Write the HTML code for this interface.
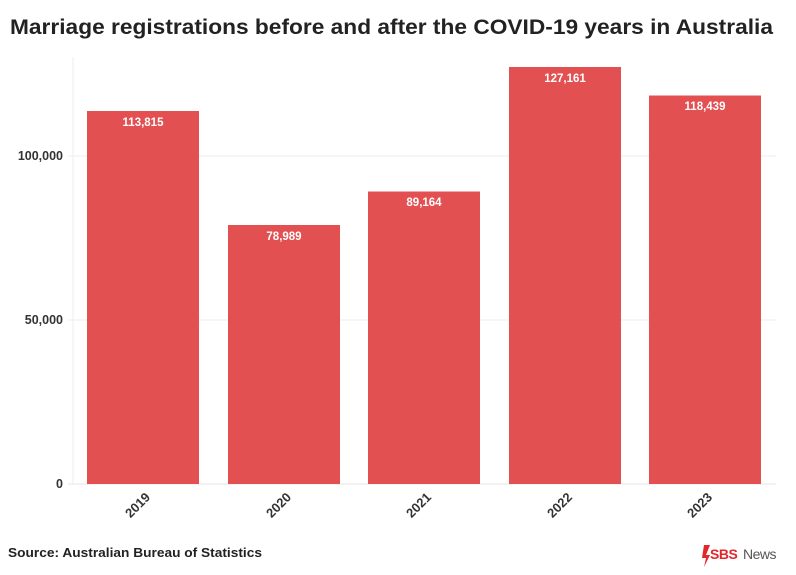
<!DOCTYPE html>
<html><head><meta charset="utf-8"><style>
body{margin:0;background:#fff;}
svg{display:block;font-family:"Liberation Sans",sans-serif;}
</style></head><body>
<svg width="796" height="575" viewBox="0 0 796 575">
<rect width="796" height="575" fill="#fff"/>
<text x="10" y="34" font-size="21.5" font-weight="bold" fill="#222" textLength="763" lengthAdjust="spacingAndGlyphs">Marriage registrations before and after the COVID-19 years in Australia</text>
<line x1="73" y1="57" x2="73" y2="484" stroke="#ececec"/>
<line x1="68" y1="156" x2="776" y2="156" stroke="#eeeeee"/>
<line x1="68" y1="320" x2="776" y2="320" stroke="#eeeeee"/>
<line x1="68" y1="484" x2="776" y2="484" stroke="#e6e6e6"/>
<g font-size="12.5" font-weight="bold" fill="#333" text-anchor="end">
<text x="63" y="160">100,000</text>
<text x="63" y="324">50,000</text>
<text x="63" y="488">0</text>
</g>
<g fill="#e35052">
<rect x="87" y="111" width="112" height="373"/>
<rect x="228" y="225" width="112" height="259"/>
<rect x="368" y="191.5" width="112" height="292.5"/>
<rect x="509" y="67" width="112" height="417"/>
<rect x="649" y="95.5" width="112" height="388.5"/>
</g>
<g font-size="11.5" font-weight="bold" fill="#fff" text-anchor="middle">
<text x="143" y="126">113,815</text>
<text x="284" y="240">78,989</text>
<text x="424" y="206">89,164</text>
<text x="565" y="82">127,161</text>
<text x="705" y="110">118,439</text>
</g>
<g font-size="13" font-weight="bold" fill="#333" text-anchor="end">
<text transform="translate(151,498) rotate(-45)">2019</text>
<text transform="translate(292,498) rotate(-45)">2020</text>
<text transform="translate(432,498) rotate(-45)">2021</text>
<text transform="translate(573,498) rotate(-45)">2022</text>
<text transform="translate(713,498) rotate(-45)">2023</text>
</g>
<text x="8" y="557" font-size="13" font-weight="bold" fill="#222" textLength="254" lengthAdjust="spacingAndGlyphs">Source: Australian Bureau of Statistics</text>
<path d="M704 545 l6 0 l-4 10 l4 0 l-6 12 l2 -9 l-4 0 z" fill="#e3262b"/>
<text x="710" y="559" font-size="14" fill="#e3262b" font-weight="bold" letter-spacing="-0.5">SBS</text>
<text x="743" y="559" font-size="14" fill="#555" letter-spacing="-0.5">News</text>
</svg>
</body></html>
